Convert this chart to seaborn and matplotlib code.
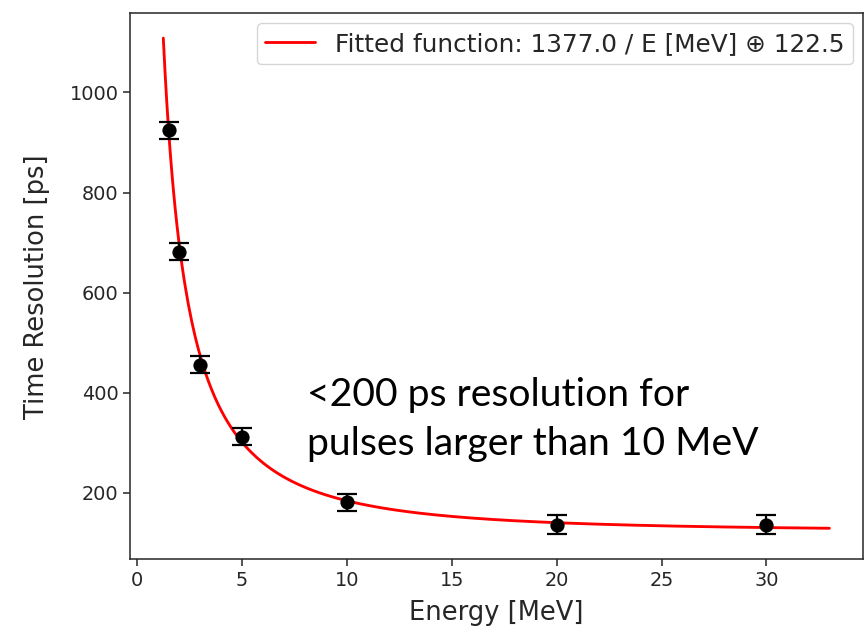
import numpy as np
import pandas as pd
import matplotlib
matplotlib.use("Agg")
import matplotlib.pyplot as plt
import seaborn as sns

# Measured time resolution versus deposited energy
energy = [1.5, 2, 3, 5, 10, 20, 30]
resolution = [924, 682, 456, 312, 181, 136, 136]
resolution_err = [17, 17, 17, 17, 17, 19, 19]

# Fit result: sigma_t = a / E (+) b
fit_a = 1377.0
fit_b = 122.5
fit_range = (1.25, 33.0)

sns.set_style("ticks")
plt.rcParams["font.family"] = ["DejaVu Sans"]

fig = plt.figure(figsize=(8.67, 6.27), dpi=100)
ax = fig.add_axes([130 / 867, 1 - 559.3 / 627,
                   (862.7 - 130) / 867, (559.3 - 13.3) / 627])

e_grid = np.linspace(fit_range[0], fit_range[1], 400)
fit_df = pd.DataFrame({"E": e_grid,
                       "sigma": np.hypot(fit_a / e_grid, fit_b)})
sns.lineplot(data=fit_df, x="E", y="sigma", ax=ax, color="red", lw=2.05,
             label=f"Fitted function: {fit_a:.1f} / E [MeV] \u2295 {fit_b:.1f}")

ax.errorbar(energy, resolution, yerr=resolution_err, fmt="none",
            ecolor="black", elinewidth=1.6, capsize=7.4, capthick=1.6, zorder=3)
pts = pd.DataFrame({"E": energy, "sigma": resolution})
sns.scatterplot(data=pts, x="E", y="sigma", ax=ax, color="black", s=105,
                edgecolor="black", linewidth=0, zorder=4)

ax.set_xlabel("Energy [MeV]", fontsize=18.5, color="#262626", labelpad=7.5)
ax.set_ylabel("Time Resolution [ps]", fontsize=18.5, color="#262626", labelpad=14)
ax.set_xticks([0, 5, 10, 15, 20, 25, 30])
ax.set_yticks([200, 400, 600, 800, 1000])
ax.tick_params(labelsize=13.9, length=4.8, width=1.1, colors="#262626")
for s in ax.spines.values():
    s.set_visible(True)
    s.set_linewidth(1.1)
    s.set_color("#262626")

leg = ax.legend(loc="upper right", fontsize=17.8, frameon=True,
                handlelength=2.0, borderpad=0.35, fancybox=True,
                borderaxespad=0.4)
leg.get_frame().set_edgecolor("#cccccc")

ax.text(0.2416, 0.191, "<200 ps resolution for\npulses larger than 10 MeV",
        transform=ax.transAxes, fontsize=28.2, family=["Lato", "DejaVu Sans"],
        color="black", ha="left", va="baseline", linespacing=1.45)

fig.savefig("out.png", dpi=100)
